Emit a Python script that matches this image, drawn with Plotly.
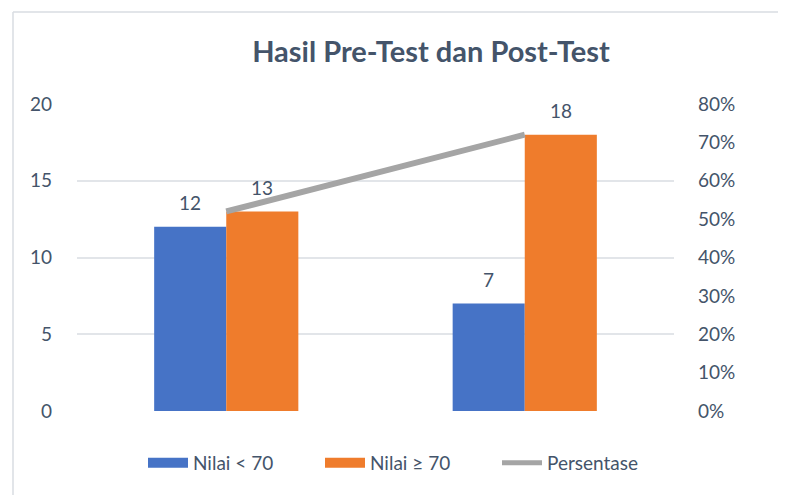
import plotly.graph_objects as go

categories = ["Pre-Test", "Post-Test"]
nilai_kurang = [12, 7]
nilai_lulus = [13, 18]
persentase = [0.52, 0.72]
series_names = ["Nilai < 70", "Nilai ≥ 70", "Persentase"]

TXT = "#44546A"
FONT = "Lato"
BLUE = "#4673C6"
ORANGE = "#EF7C2C"
GRAY = "#A5A5A5"

W, H = 778, 487
L, R, T, B = 69, 112, 96, 84
PW, PH = W - L - R, H - T - B

fig = go.Figure()
fig.add_trace(go.Bar(x=categories, y=nilai_kurang, name=series_names[0],
                     marker=dict(color=BLUE, line=dict(width=0)), showlegend=False))
fig.add_trace(go.Bar(x=categories, y=nilai_lulus, name=series_names[1],
                     marker=dict(color=ORANGE, line=dict(width=0)), showlegend=False))
fig.add_trace(go.Scatter(x=categories, y=persentase, name=series_names[2], yaxis="y2",
                         mode="lines", line=dict(color=GRAY, width=6), showlegend=False))

# legend entries (wide swatches like the original)
for nm, col, w in [(series_names[0], BLUE, 14), (series_names[1], ORANGE, 14), (series_names[2], GRAY, 5)]:
    fig.add_trace(go.Scatter(x=[None], y=[None], mode="lines", name=nm,
                             line=dict(color=col, width=w)))

# data labels above bars
annotations = []
for vals, shift in [(nilai_kurang, -36), (nilai_lulus, 36)]:
    for c, v in zip(categories, vals):
        annotations.append(dict(x=c, y=v, xref="x", yref="y", text=str(v), showarrow=False,
                                xshift=shift, yshift=24, yanchor="middle",
                                font=dict(size=19, color=TXT, family=FONT)))

fig.update_layout(
    width=W, height=H,
    margin=dict(l=L, r=R, t=T, b=B),
    paper_bgcolor="white", plot_bgcolor="white",
    font=dict(family=FONT, size=19, color=TXT),
    title=dict(text="<b>Hasil Pre-Test dan Post-Test</b>", x=423 / W, xanchor="center",
               y=1 - 44 / H, yanchor="middle",
               font=dict(size=29, color=TXT, family=FONT)),
    barmode="group", bargap=0.517, bargroupgap=0,
    showlegend=True,
    legend=dict(orientation="h", x=(135 - L) / PW, xanchor="left",
                y=-52 / PH, yanchor="middle",
                font=dict(size=19, color=TXT, family=FONT), traceorder="normal",
                itemwidth=40, entrywidth=122, entrywidthmode="pixels",
                bgcolor="rgba(0,0,0,0)"),
    annotations=annotations,
    xaxis=dict(showticklabels=False, showgrid=False, zeroline=False, showline=False, ticks=""),
    yaxis=dict(range=[0, 20], dtick=5, showgrid=True, gridcolor="#E2E5E9", gridwidth=1.5,
               zeroline=False, showline=False, ticks="", ticklabelstandoff=24,
               tickfont=dict(size=19, color=TXT, family=FONT)),
    yaxis2=dict(range=[0, 0.8], dtick=0.1, tickformat=".0%", overlaying="y", side="right",
                showgrid=False, zeroline=False, showline=False, ticks="",
                ticklabelstandoff=23,
                tickfont=dict(size=19, color=TXT, family=FONT)),
    shapes=[
        dict(type="line", xref="paper", yref="paper",
             x0=(5 - L) / PW, x1=(W - L) / PW + 0.05,
             y0=(PH + T - 4) / PH, y1=(PH + T - 4) / PH,
             line=dict(color="#D9DDE2", width=1.5)),
        dict(type="line", xref="paper", yref="paper",
             x0=(5 - L) / PW, x1=(5 - L) / PW,
             y0=(PH + T - 4) / PH, y1=-0.5,
             line=dict(color="#D9DDE2", width=1.5)),
    ],
)

fig.write_html("out.html")
